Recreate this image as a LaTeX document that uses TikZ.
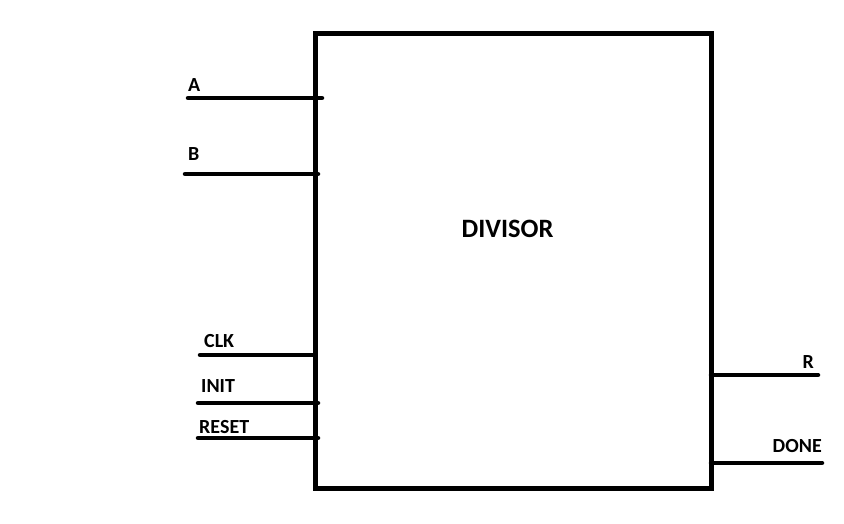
\documentclass[tikz,border=0pt]{standalone}
\usepackage{fontspec}
\setmainfont{Carlito}
\usetikzlibrary{positioning}
\tikzset{
  blk/.style={draw=black, line width=5pt, minimum width=396pt, minimum height=454pt, inner sep=0pt},
  wire/.style={draw=black, line width=4.5pt, line cap=round},
  pin/.style={font=\fontsize{20}{24}\selectfont\bfseries, anchor=base west, inner sep=0pt},
  ttl/.style={font=\fontsize{26.5}{30}\selectfont\bfseries, inner sep=0pt},
}
\begin{document}
\begin{tikzpicture}[x=1pt, y=-1pt]
    \useasboundingbox (0,0) rectangle (844,524);
    \node[blk] (div) at (513,261) {};
    \node[ttl] (name) at (507.5,229) {DIVISOR};
    % inputs
    \coordinate (inA) at (188,98);    \coordinate (pinA) at (322,98);
    \coordinate (inB) at (185,174);   \coordinate (pinB) at (318,174);
    \coordinate (inClk) at (200,355); \coordinate (pinClk) at (315,355);
    \coordinate (inIni) at (198,403); \coordinate (pinIni) at (318,403);
    \coordinate (inRst) at (198,438); \coordinate (pinRst) at (318,438);
    % outputs
    \coordinate (pinR) at (711,375);  \coordinate (outR) at (818,375);
    \coordinate (pinD) at (711,463);  \coordinate (outD) at (822,463);
    \draw[wire] (inA) -- (pinA); \draw[wire] (inB) -- (pinB);
    \draw[wire] (inClk) -- (pinClk); \draw[wire] (inIni) -- (pinIni); \draw[wire] (inRst) -- (pinRst);
    \draw[wire] (pinR) -- (outR); \draw[wire] (pinD) -- (outD);
    \node[pin] (lblA) at (188,92) {A};
    \node[pin] (lblB) at (188,161) {B};
    \node[pin] (lblClk) at (204,347) {CLK};
    \node[pin] (lblIni) at (201,392) {INIT};
    \node[pin] (lblRst) at (199,433) {RESET};
    \node[pin, anchor=base east] (lblR) at (814,368) {R};
    \node[pin, anchor=base east] (lblD) at (822,452) {DONE};
  \end{tikzpicture}
\end{document}
